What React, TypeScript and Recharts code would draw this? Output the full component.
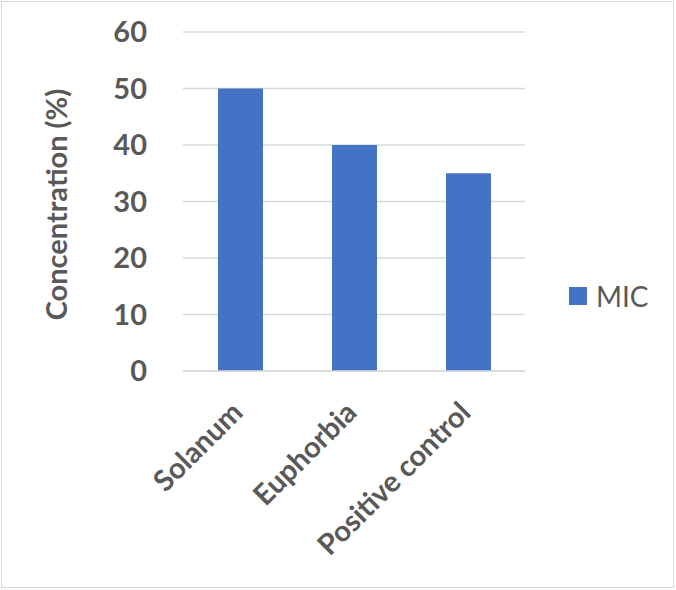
import React from "react";
import { BarChart, Bar, XAxis, YAxis, CartesianGrid } from "recharts";

const categories = ["Solanum", "Euphorbia", "Positive control"];
const micValues = [50, 40, 35];
const yTicks = [0, 10, 20, 30, 40, 50, 60];

const data = categories.map((name, i) => ({ name, MIC: micValues[i] }));

const FONT = "Lato, 'Open Sans', sans-serif";
const GREY = "#595959";

const XTick = (props: any) => {
  const { x, y, payload } = props;
  return (
    <g transform={`translate(${x - 12},${y + 19})`}>
      <text
        x={0}
        y={0}
        transform="rotate(-45)"
        textAnchor="end"
        dominantBaseline="hanging"
        fill={GREY}
        fontSize={29}
        fontWeight={700}
        fontFamily={FONT}
      >
        {payload.value}
      </text>
    </g>
  );
};

const YLabel = (props: any) => {
  const { viewBox } = props;
  const cy = viewBox.y + viewBox.height / 2 + 3;
  const cx = 55;
  return (
    <text
      x={cx}
      y={cy}
      transform={`rotate(-90, ${cx}, ${cy})`}
      textAnchor="middle"
      dominantBaseline="central"
      fill={GREY}
      fontSize={29}
      fontWeight={700}
      fontFamily={FONT}
    >
      Concentration (%)
    </text>
  );
};

export default function App() {
  return (
    <div
      style={{
        position: "absolute",
        left: 0,
        top: 0,
        width: 676,
        height: 590,
        background: "#fff",
      }}
    >
      <div
        style={{
          position: "absolute",
          left: 1,
          top: 1,
          width: 673,
          height: 587,
          border: "1px solid #d9d9d9",
          boxSizing: "border-box",
        }}
      />
      <BarChart
        width={676}
        height={590}
        data={data}
        margin={{ top: 32, right: 151, bottom: 0, left: 0 }}
        barSize={45}
      >
        <CartesianGrid vertical={false} stroke="#d9d9d9" strokeWidth={1.5} />
        <XAxis
          dataKey="name"
          height={219}
          axisLine={{ stroke: "#d9d9d9", strokeWidth: 1.5 }}
          tickLine={false}
          interval={0}
          tick={<XTick />}
        />
        <YAxis
          width={183}
          domain={[0, 60]}
          ticks={yTicks}
          axisLine={false}
          tickLine={false}
          tickMargin={30}
          tick={{ fill: GREY, fontSize: 29, fontWeight: 700, fontFamily: FONT }}
          label={<YLabel />}
        />
        <Bar dataKey="MIC" fill="#4472C4" isAnimationActive={false} />
      </BarChart>
      <div
        style={{
          position: "absolute",
          left: 569,
          top: 279,
          display: "flex",
          alignItems: "center",
          fontFamily: FONT,
        }}
      >
        <div style={{ width: 18, height: 18, background: "#4472C4", marginRight: 9 }} />
        <span style={{ color: GREY, fontSize: 28 }}>MIC</span>
      </div>
    </div>
  );
}
